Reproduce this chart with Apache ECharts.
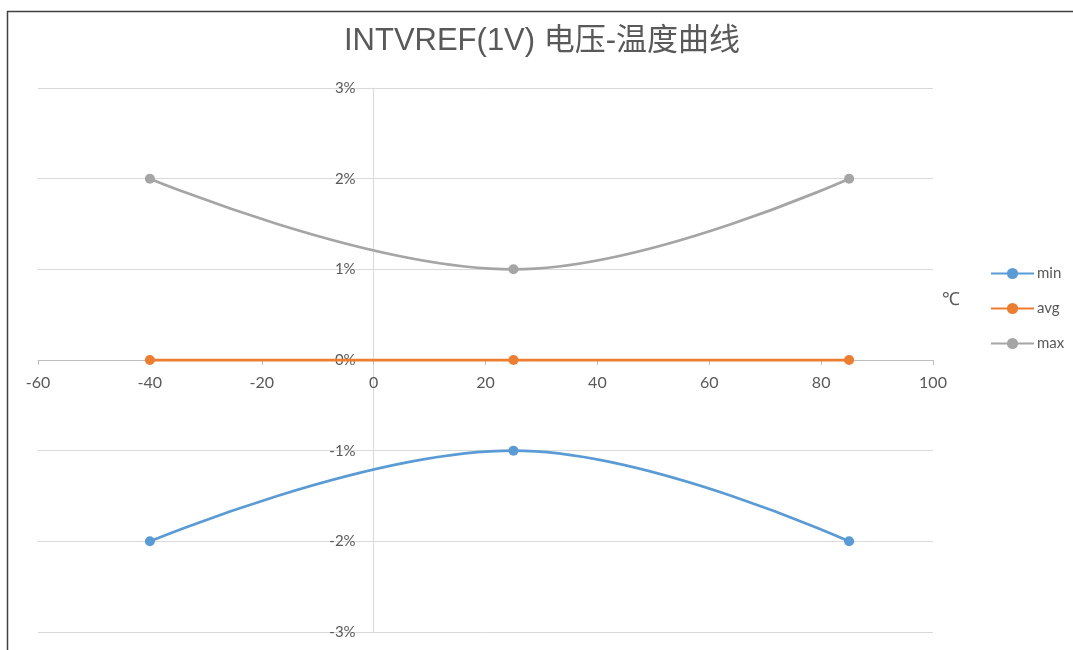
<!DOCTYPE html>
<html>
<head>
<meta charset="utf-8">
<script src="https://cdn.jsdelivr.net/npm/echarts@6/dist/echarts.min.js"></script>
<style>
  html, body { margin: 0; padding: 0; background: #fff; }
  #chart { width: 1073px; height: 650px; }
</style>
</head>
<body>
<div id="chart"></div>
<script>
// Temperatures (°C) and voltage deviation (%) at each temperature
const temps = [-40, 25, 85];
const minVals = [-2, -1, -2];
const avgVals = [0, 0, 0];
const maxVals = [2, 1, 2];
const seriesNames = ['min', 'avg', 'max'];
const seriesColors = ['#5B9BD5', '#ED7D31', '#A5A5A5'];

const textColor = '#595959';
const labelFont = 'Lato, "Open Sans", sans-serif';
const titleFont = '"Liberation Sans", Arial, "Noto Sans CJK SC", sans-serif';

function pairs(xs, ys) {
  return xs.map((x, i) => [x, ys[i]]);
}

const chart = echarts.init(document.getElementById('chart'));
const valueSets = [minVals, avgVals, maxVals];

chart.setOption({
  animation: false,
  backgroundColor: '#fff',
  textStyle: { fontFamily: labelFont },
  title: {
    text: 'INTVREF(1V) 电压-温度曲线',
    left: 537,
    top: 21,
    textAlign: 'center',
    textStyle: { fontSize: 31, fontWeight: 'normal', color: textColor, fontFamily: titleFont }
  },
  legend: {
    orient: 'vertical',
    left: 990,
    top: 266,
    padding: 0,
    itemGap: 20,
    itemWidth: 43,
    itemHeight: 14,
    textStyle: { color: textColor, fontSize: 15, padding: [0, 0, 0, -2] },
    data: seriesNames
  },
  grid: { left: 38, right: 140, top: 88, bottom: 18, containLabel: false, outerBoundsMode: 'none' },
  xAxis: {
    type: 'value',
    min: -60,
    max: 100,
    interval: 20,
    axisLine: { onZero: false, lineStyle: { color: '#BFBFBF', width: 1 } },
    axisTick: { show: true, length: 5, lineStyle: { color: '#BFBFBF' } },
    axisLabel: { color: textColor, fontSize: 16, margin: 15 },
    splitLine: { show: false }
  },
  yAxis: {
    type: 'value',
    min: -3,
    max: 3,
    interval: 1,
    axisLine: { show: true, onZero: false, lineStyle: { color: '#D9D9D9', width: 1 } },
    axisTick: { show: true, length: 6, lineStyle: { color: '#D9D9D9' } },
    axisLabel: { color: textColor, fontSize: 15, margin: 18, formatter: '{value}%' },
    splitLine: { show: true, lineStyle: { color: '#D9D9D9', width: 1 } }
  },
  series: seriesNames.map((name, i) => ({
    name: name,
    type: 'line',
    smooth: 0.4,
    symbol: 'circle',
    symbolSize: 10,
    color: seriesColors[i],
    lineStyle: { width: 2.75, color: seriesColors[i] },
    itemStyle: { color: seriesColors[i] },
    data: pairs(temps, valueSets[i])
  })),
  graphic: [{
    type: 'rect',
    shape: { x: 7.5, y: 11.5, width: 1200, height: 800 },
    style: { fill: 'none', stroke: '#404040', lineWidth: 1.5 },
    silent: true,
    z: 100
  }, {
    type: 'text',
    left: 942,
    top: 290,
    style: { text: '℃', fill: textColor, font: '18px ' + labelFont },
    silent: true
  }]
});

// Both axes cross at the origin: shift each axis (line, ticks and labels) onto zero.
const rect = chart.getModel().getComponent('grid', 0).coordinateSystem.getRect();
const origin = chart.convertToPixel({ gridIndex: 0 }, [0, 0]);
chart.setOption({
  xAxis: { offset: -(rect.y + rect.height - origin[1]) },
  yAxis: { offset: -(origin[0] - rect.x) }
});
</script>
</body>
</html>
